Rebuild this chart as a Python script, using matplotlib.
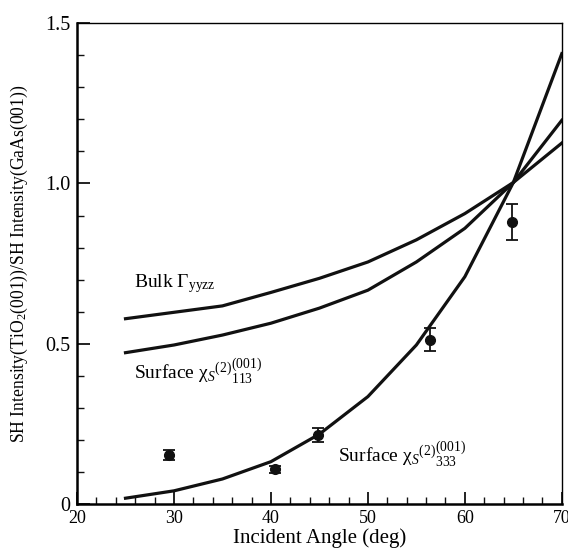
import matplotlib
matplotlib.use("Agg")
import matplotlib.pyplot as plt
from matplotlib.ticker import MultipleLocator, FixedLocator, FixedFormatter

plt.rcParams["font.family"] = ["Liberation Serif", "DejaVu Serif"]
plt.rcParams["mathtext.fontset"] = "custom"
plt.rcParams["mathtext.rm"] = "Liberation Serif"
plt.rcParams["mathtext.it"] = "Liberation Serif:italic"

# ---------------------------------------------------------------------------
# Data
# ---------------------------------------------------------------------------
angle = [25, 30, 35, 40, 45, 50, 55, 60, 65, 70]
bulk_yyzz = [0.578, 0.598, 0.618, 0.660, 0.704, 0.755, 0.824, 0.906, 1.003, 1.126]
surf_113 = [0.472, 0.496, 0.527, 0.564, 0.611, 0.667, 0.755, 0.860, 1.003, 1.197]
surf_333 = [0.018, 0.041, 0.078, 0.132, 0.218, 0.335, 0.496, 0.709, 1.003, 1.405]

meas_angle = [29.5, 40.4, 44.9, 56.4, 64.9]
meas_val = [0.152, 0.108, 0.215, 0.513, 0.880]
meas_err = [0.015, 0.010, 0.022, 0.037, 0.057]

xticks = [20, 30, 40, 50, 60, 70]
yticks = [0, 0.5, 1.0, 1.5]
ytick_labels = ["0", "0.5", "1.0", "1.5"]

# ---------------------------------------------------------------------------
# Plot
# ---------------------------------------------------------------------------
fig = plt.figure(figsize=(5.68, 5.52), dpi=100, facecolor="white")
ax = fig.add_axes([0.1356, 0.087, 0.8535, 0.871])

lw = 2.3
ax.plot(angle, bulk_yyzz, color="#111111", lw=lw)
ax.plot(angle, surf_113, color="#111111", lw=lw)
ax.plot(angle, surf_333, color="#111111", lw=lw)
ax.errorbar(meas_angle, meas_val, yerr=meas_err, fmt="o", color="#111111",
            ms=7, capsize=4.5, elinewidth=1.3, capthick=1.3)

ax.set_xlim(20, 70)
ax.set_ylim(0, 1.5)
ax.xaxis.set_major_locator(FixedLocator(xticks))
ax.xaxis.set_minor_locator(MultipleLocator(2))
ax.yaxis.set_major_locator(FixedLocator(yticks))
ax.yaxis.set_major_formatter(FixedFormatter(ytick_labels))
ax.yaxis.set_minor_locator(MultipleLocator(0.1))
ax.tick_params(which="both", direction="in", top=False, right=False,
               color="#111111")
ax.tick_params(axis="y", labelsize=14.5, pad=5)
ax.tick_params(axis="x", labelsize=13, pad=4)
ax.tick_params(which="major", length=9, width=1.3)
ax.tick_params(which="minor", length=5, width=1.0)

for side in ("left", "bottom"):
    ax.spines[side].set_linewidth(1.8)
for side in ("top", "right"):
    ax.spines[side].set_linewidth(1.0)

ax.set_xlabel("Incident Angle (deg)", fontsize=15, labelpad=1)
ax.set_ylabel("SH Intensity(TiO$_2$(001))/SH Intensity(GaAs(001))",
              fontsize=12.7, labelpad=11)

ax.text(25.9, 0.675, r"Bulk Γ$_{\mathrm{yyzz}}$", fontsize=14)
ax.text(25.9, 0.39, r"Surface χ$_S{}^{(2)}{}^{(001)}_{113}$", fontsize=14)
ax.text(46.9, 0.13, r"Surface χ$_S{}^{(2)}{}^{(001)}_{333}$", fontsize=14)

fig.savefig("out.png", dpi=100, facecolor="white")
